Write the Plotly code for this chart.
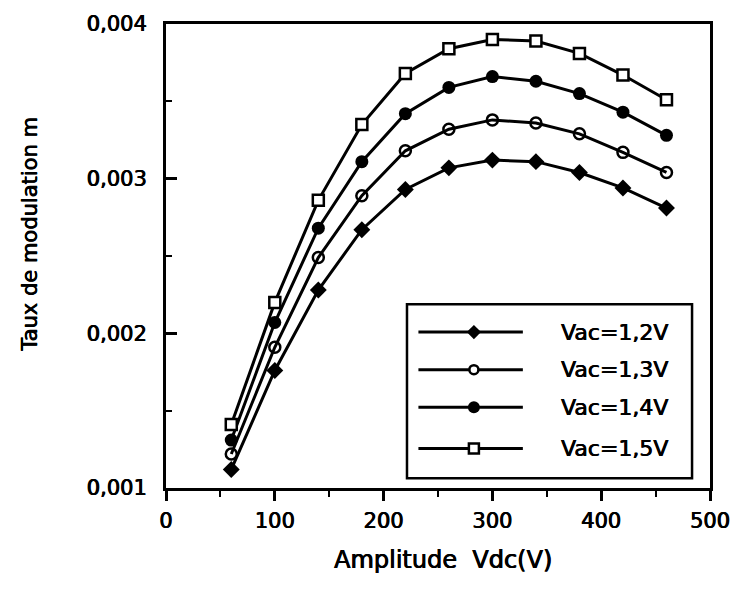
import plotly.graph_objects as go

# ---- data ----
vdc = [60, 100, 140, 180, 220, 260, 300, 340, 380, 420, 460]
m_12 = [0.00112, 0.00176, 0.00228, 0.00267, 0.00293, 0.00307, 0.00312, 0.00311, 0.00304, 0.00294, 0.00281]
m_13 = [0.00122, 0.00191, 0.00249, 0.00289, 0.00318, 0.00332, 0.00338, 0.00336, 0.00329, 0.00317, 0.00304]
m_14 = [0.00131, 0.00207, 0.00268, 0.00311, 0.00342, 0.00359, 0.00366, 0.00363, 0.00355, 0.00343, 0.00328]
m_15 = [0.00141, 0.00220, 0.00286, 0.00335, 0.00368, 0.00384, 0.00390, 0.00389, 0.00381, 0.00367, 0.00351]
series_names = ["Vac=1,2V", "Vac=1,3V", "Vac=1,4V", "Vac=1,5V"]
x_tickvals = [0, 100, 200, 300, 400, 500]
x_ticktext = ["0", "100", "200", "300", "400", "500"]
y_tickvals = [0.001, 0.002, 0.003, 0.004]
y_ticktext = ["0,001", "0,002", "0,003", "0,004"]

FONT = "DejaVu Sans"
SHADOW = "0.5px 0 0 black, -0.3px 0 0 black"
styles = [
    dict(symbol="diamond", size=13, color="black", line=dict(width=0)),
    dict(symbol="circle-open", size=11, color="black", line=dict(width=2.5)),
    dict(symbol="circle", size=13, color="black", line=dict(width=0)),
    dict(symbol="square", size=11, color="white", line=dict(width=2.5, color="black")),
]
leg_styles = [
    dict(symbol="diamond", size=11, color="black", line=dict(width=0)),
    dict(symbol="circle", size=9, color="white", line=dict(width=2.5, color="black")),
    dict(symbol="circle", size=12, color="black", line=dict(width=0)),
    dict(symbol="square", size=10, color="white", line=dict(width=2.5, color="black")),
]

fig = go.Figure()
for ys, st, nm in zip([m_12, m_13, m_14, m_15], styles, series_names):
    fig.add_trace(go.Scatter(
        x=vdc, y=ys, mode="lines+markers", name=nm, showlegend=False,
        line=dict(color="black", width=3),
        marker=st,
    ))

# custom legend drawn on an overlay axis (0..1 over the plot area)
leg_y = [0.336, 0.255, 0.174, 0.085]
for yy, st, nm in zip(leg_y, leg_styles, series_names):
    fig.add_trace(go.Scatter(
        x=[0.464, 0.656], y=[yy, yy], mode="lines", xaxis="x2", yaxis="y2",
        line=dict(color="black", width=3), showlegend=False, hoverinfo="skip",
    ))
    fig.add_trace(go.Scatter(
        x=[0.566], y=[yy], mode="markers", xaxis="x2", yaxis="y2",
        marker=st, showlegend=False, hoverinfo="skip",
    ))
    fig.add_annotation(x=0.722, y=yy, xref="x2", yref="y2", text=nm,
                       showarrow=False, xanchor="left", yanchor="middle",
                       font=dict(family=FONT, size=22, color="black", shadow=SHADOW))

fig.add_shape(type="rect", xref="x2", yref="y2", x0=0.443, x1=0.967, y0=0.021, y1=0.396,
              line=dict(color="black", width=2.5), fillcolor="rgba(0,0,0,0)")

fig.update_layout(
    width=742, height=589,
    margin=dict(l=166, r=25, t=15, b=101),
    paper_bgcolor="white", plot_bgcolor="white",
    font=dict(family=FONT, size=21, color="black"),
    xaxis=dict(
        range=[0, 500], tickvals=x_tickvals, ticktext=x_ticktext,
        showgrid=False, zeroline=False, showline=True, linecolor="black", linewidth=3, mirror=True,
        ticks="outside", ticklen=10, tickwidth=2.5, tickcolor="black",
        minor=dict(dtick=50, ticks="outside", ticklen=6, tickwidth=2, tickcolor="black", showgrid=False),
        tickfont=dict(family=FONT, size=21, shadow=SHADOW),
        ticklabelstandoff=2,
    ),
    yaxis=dict(
        range=[0.001, 0.004], tickvals=y_tickvals, ticktext=y_ticktext,
        showgrid=False, zeroline=False, showline=True, linecolor="black", linewidth=3, mirror=True,
        ticks="inside", ticklen=11, tickwidth=2.5, tickcolor="black",
        minor=dict(dtick=0.0005, tick0=0.001, ticks="inside", ticklen=6, tickwidth=2, tickcolor="black", showgrid=False),
        tickfont=dict(family=FONT, size=21, shadow=SHADOW),
        ticklabelstandoff=12,
    ),
    xaxis2=dict(overlaying="x", range=[0, 1], visible=False, anchor="y2"),
    yaxis2=dict(overlaying="y", range=[0, 1], visible=False, anchor="x2"),
)

fig.add_annotation(x=28, y=229, xref="paper", yref="paper", text="Taux de modulation m",
                   showarrow=False, textangle=-90, xanchor="center", yanchor="middle",
                   font=dict(family=FONT, size=21, color="black", shadow=SHADOW))
fig.add_annotation(x=447, y=561, xref="paper", yref="paper", text="Amplitude  Vdc(V)",
                   showarrow=False, xanchor="center", yanchor="middle",
                   font=dict(family=FONT, size=24, color="black", shadow=SHADOW))

# convert pixel positions of the titles into paper coordinates
pw, ph = 742 - 166 - 25, 589 - 15 - 101
for ann in fig.layout.annotations:
    if ann.xref == "paper":
        ann.x = (ann.x - 166) / pw
        ann.y = (589 - 101 - ann.y) / ph

fig.write_html("out.html")
